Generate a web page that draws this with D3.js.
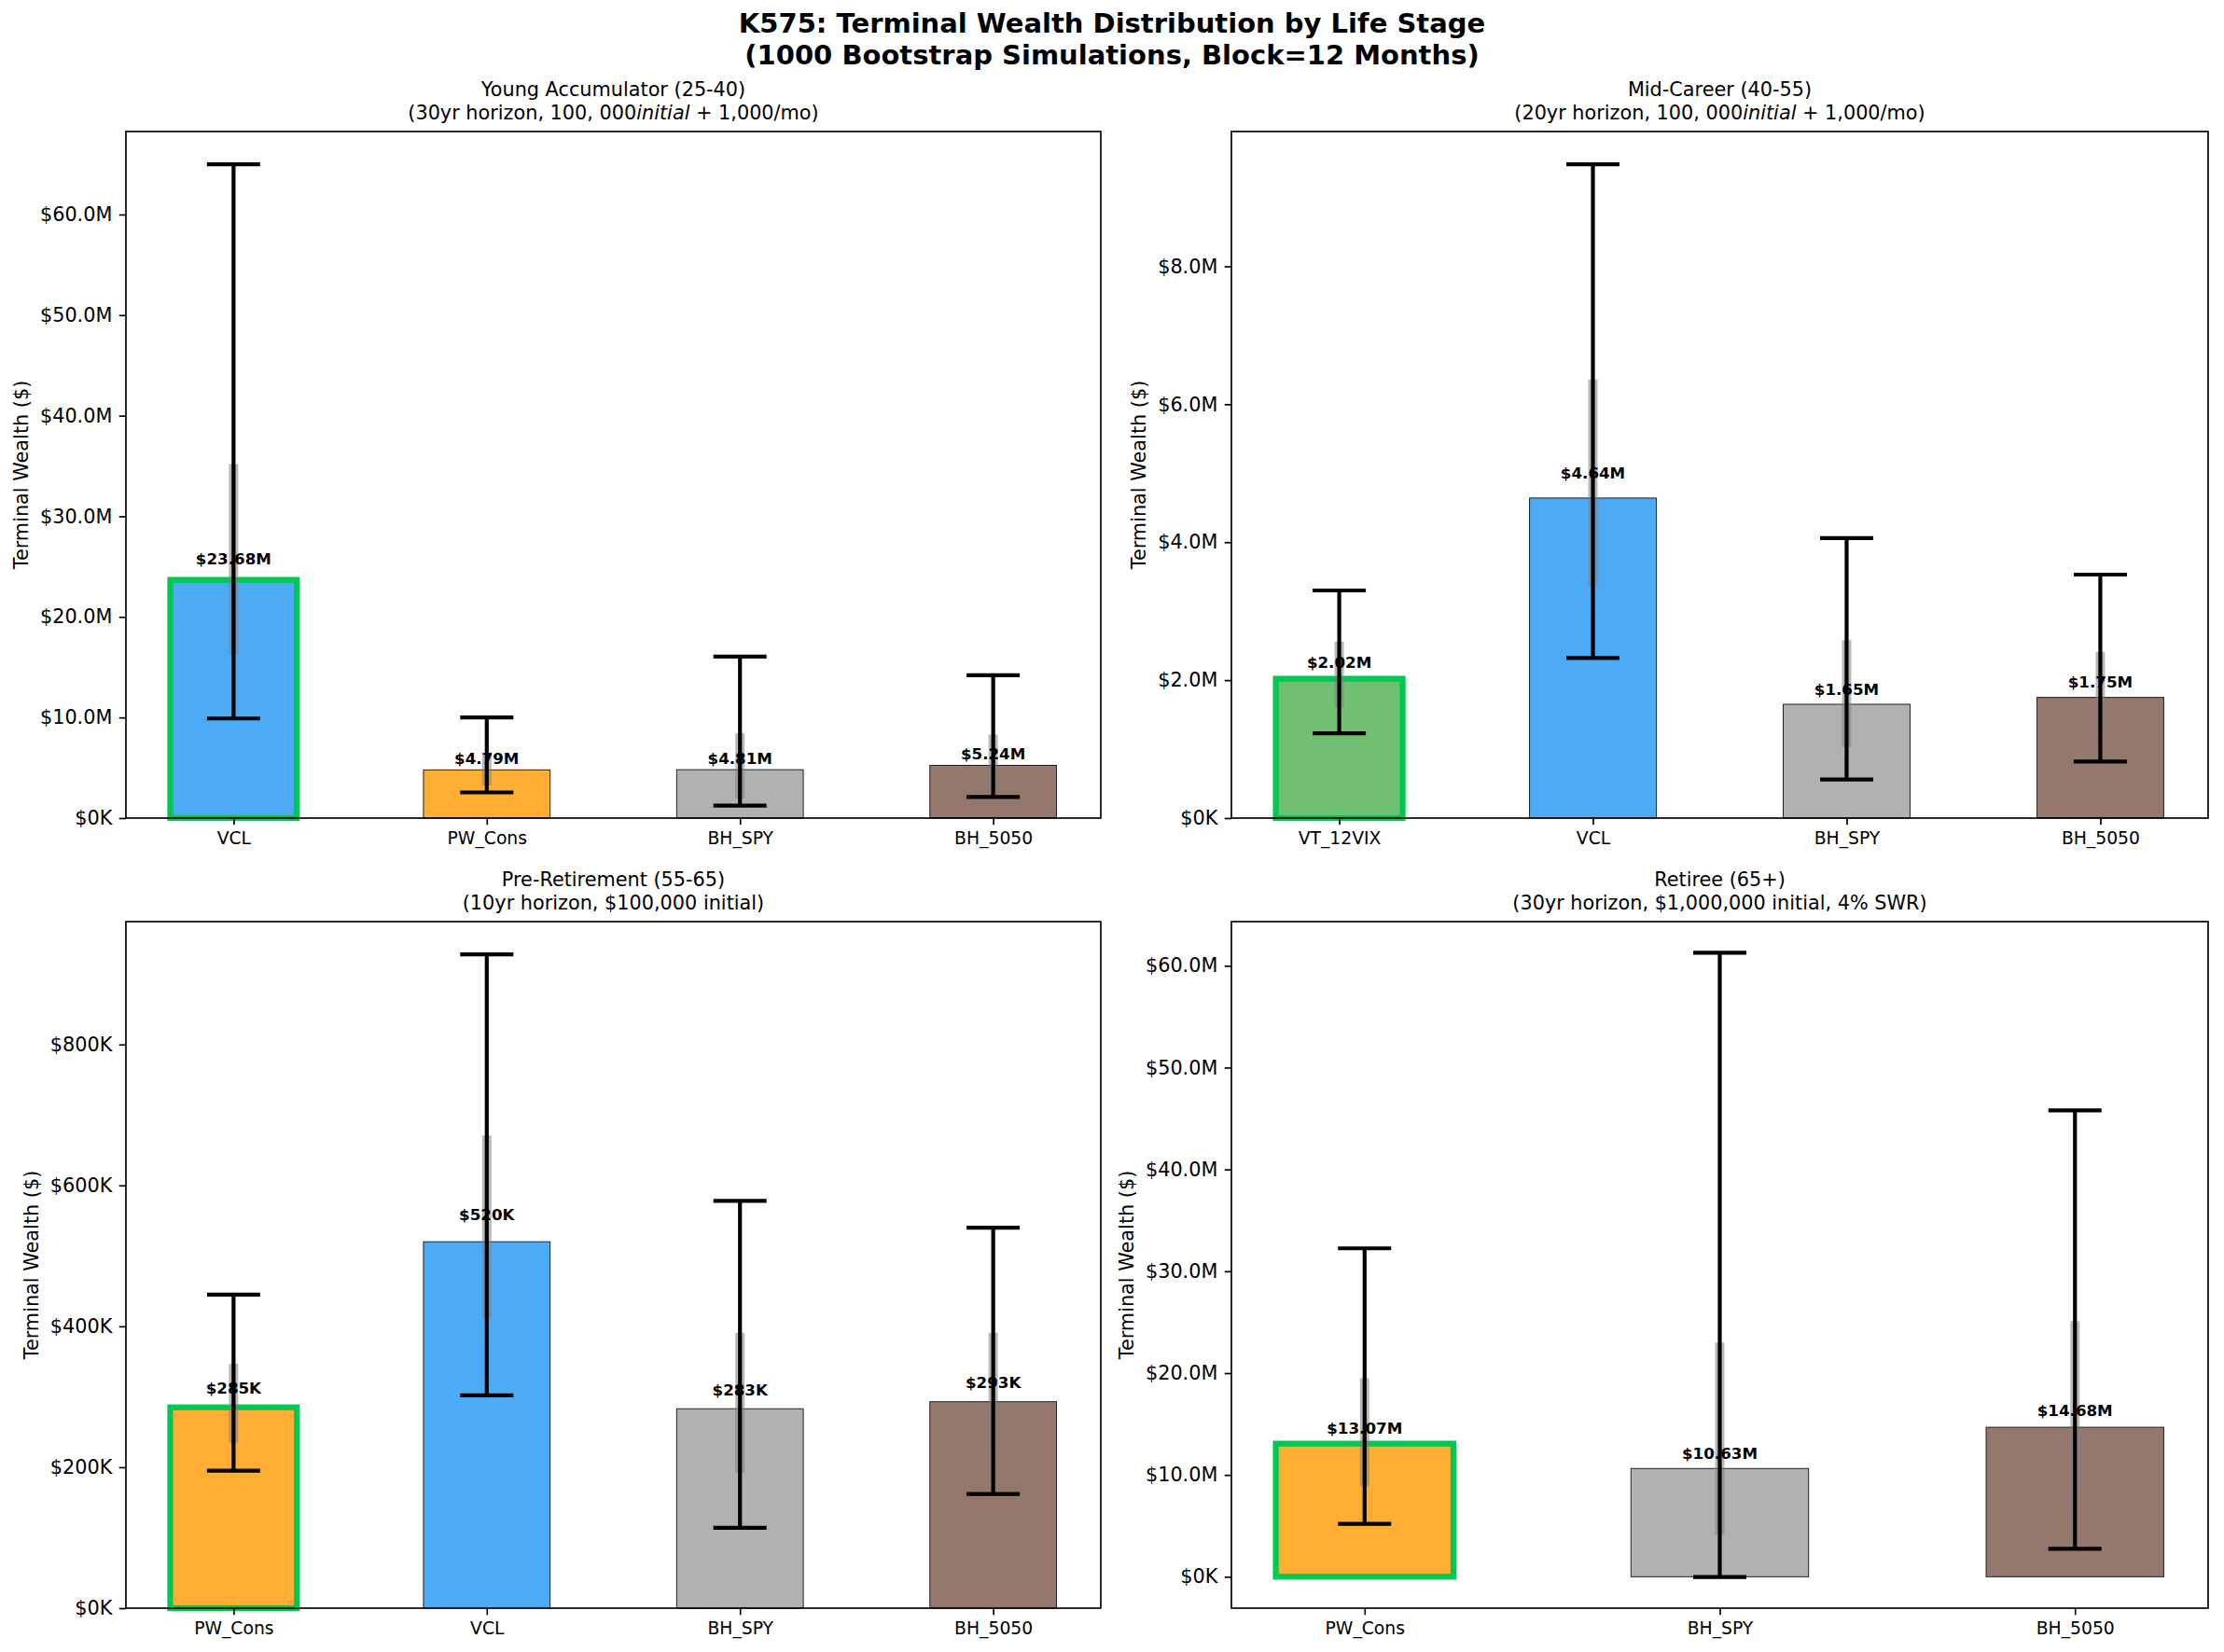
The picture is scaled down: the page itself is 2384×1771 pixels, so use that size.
<!DOCTYPE html>
<html>
<head>
<meta charset="utf-8">
<title>K575 Terminal Wealth</title>
<style>
  body { margin: 0; background: #fff; }
  svg text { font-family: "DejaVu Sans", sans-serif; fill: #000; }
</style>
<script src="https://cdnjs.cloudflare.com/ajax/libs/d3/7.8.5/d3.min.js"></script>
</head>
<body>
<svg id="chart" width="2384" height="1771"></svg>
<script>
// values (dollars)
var youngNames = ['VCL', 'PW_Cons', 'BH_SPY', 'BH_5050'];
var youngMedian = [23.68e6, 4.79e6, 4.81e6, 5.24e6];
var youngP5 = [9.9e6, 2.55e6, 1.24e6, 2.09e6];
var youngP95 = [65.0e6, 10.0e6, 16.05e6, 14.2e6];
var youngQ25 = [16.2e6, 3.25e6, 1.95e6, 2.94e6];
var youngQ75 = [35.2e6, 6.5e6, 8.44e6, 8.3e6];
var youngTicks = [0, 10e6, 20e6, 30e6, 40e6, 50e6, 60e6];

var midNames = ['VT_12VIX', 'VCL', 'BH_SPY', 'BH_5050'];
var midMedian = [2.02e6, 4.64e6, 1.65e6, 1.75e6];
var midP5 = [1.23e6, 2.32e6, 0.56e6, 0.82e6];
var midP95 = [3.30e6, 9.48e6, 4.06e6, 3.53e6];
var midQ25 = [1.60e6, 3.35e6, 1.03e6, 1.26e6];
var midQ75 = [2.56e6, 6.36e6, 2.58e6, 2.41e6];
var midTicks = [0, 2e6, 4e6, 6e6, 8e6];

var preNames = ['PW_Cons', 'VCL', 'BH_SPY', 'BH_5050'];
var preMedian = [285e3, 520e3, 283e3, 293e3];
var preP5 = [195e3, 302e3, 114e3, 162e3];
var preP95 = [445e3, 928e3, 578e3, 540e3];
var preQ25 = [235e3, 411e3, 192e3, 230e3];
var preQ75 = [347e3, 671e3, 391e3, 391e3];
var preTicks = [0, 200e3, 400e3, 600e3, 800e3];

var retNames = ['PW_Cons', 'BH_SPY', 'BH_5050'];
var retMedian = [13.07e6, 10.63e6, 14.68e6];
var retP5 = [5.2e6, -0.02e6, 2.74e6];
var retP95 = [32.25e6, 61.27e6, 45.8e6];
var retQ25 = [8.9e6, 4.1e6, 7.9e6];
var retQ75 = [19.5e6, 23.0e6, 25.1e6];
var retTicks = [0, 10e6, 20e6, 30e6, 40e6, 50e6, 60e6];

var stageTitles = ['Young Accumulator (25-40)', 'Mid-Career (40-55)', 'Pre-Retirement (55-65)', 'Retiree (65+)'];

var colors = {
  VCL: '#2196F3', PW_Cons: '#FF9800', BH_SPY: '#9E9E9E',
  BH_5050: '#795548', VT_12VIX: '#4CAF50'
};

var panels = [
  { names: youngNames, med: youngMedian, p5: youngP5, p95: youngP95, q25: youngQ25, q75: youngQ75, ticks: youngTicks,
    sub: [['(30yr horizon, 100, 000', false], ['initial', true], [' + 1,000/mo)', false]],
    box: { left: 135, right: 1180, top: 141, bottom: 877 } },
  { names: midNames, med: midMedian, p5: midP5, p95: midP95, q25: midQ25, q75: midQ75, ticks: midTicks,
    sub: [['(20yr horizon, 100, 000', false], ['initial', true], [' + 1,000/mo)', false]],
    box: { left: 1320, right: 2367, top: 141, bottom: 877 } },
  { names: preNames, med: preMedian, p5: preP5, p95: preP95, q25: preQ25, q75: preQ75, ticks: preTicks,
    sub: [['(10yr horizon, $100,000 initial)', false]],
    box: { left: 135, right: 1180, top: 988, bottom: 1724 } },
  { names: retNames, med: retMedian, p5: retP5, p95: retP95, q25: retQ25, q75: retQ75, ticks: retTicks,
    sub: [['(30yr horizon, $1,000,000 initial, 4% SWR)', false]],
    box: { left: 1320, right: 2367, top: 988, bottom: 1724 } }
];

function fmtTick(v) {
  if (Math.abs(v) >= 1e6) return '$' + (v / 1e6).toFixed(1) + 'M';
  return '$' + (v / 1e3).toFixed(0) + 'K';
}
function fmtVal(v) {
  if (Math.abs(v) >= 1e6) return '$' + (v / 1e6).toFixed(2) + 'M';
  return '$' + (v / 1e3).toFixed(0) + 'K';
}

var svg = d3.select('#chart');
svg.append('rect').attr('width', 2384).attr('height', 1771).attr('fill', '#fff');

// figure title
var sup = svg.append('text')
  .attr('text-anchor', 'middle')
  .style('font-size', '29px')
  .style('font-weight', 'bold');
sup.append('tspan').attr('x', 1192).attr('y', 35).text('K575: Terminal Wealth Distribution by Life Stage');
sup.append('tspan').attr('x', 1192).attr('y', 69).text('(1000 Bootstrap Simulations, Block=12 Months)');

var tickLen = 7.3, tickPad = 7.3;

panels.forEach(function (p, k) {
  var b = p.box;
  var n = p.names.length;
  var xMargin = 0.05 * (n - 0.5);
  var x = d3.scaleLinear()
    .domain([-0.25 - xMargin, n - 0.75 + xMargin])
    .range([b.left, b.right]);

  // matplotlib-like autoscale: bars stick at 0 unless a whisker dips below
  var dmin = Math.min(0, d3.min(p.p5));
  var dmax = d3.max(p.p95);
  var m = 0.05 * (dmax - dmin);
  var y = d3.scaleLinear()
    .domain([dmin < 0 ? dmin - m : 0, dmax + m])
    .range([b.bottom, b.top]);

  var g = svg.append('g');
  var idx = d3.range(n);
  var bw = x(0.5) - x(0);

  // bars
  g.selectAll('rect.bar')
    .data(idx)
    .enter()
    .append('rect')
    .attr('class', 'bar')
    .attr('x', i => x(i) - bw / 2)
    .attr('y', i => y(p.med[i]))
    .attr('width', bw)
    .attr('height', i => y(0) - y(p.med[i]))
    .attr('fill', i => colors[p.names[i]])
    .attr('fill-opacity', 0.8)
    .attr('stroke', i => i === 0 ? '#00C853' : '#222')
    .attr('stroke-width', i => i === 0 ? 6.25 : 1);

  // 25-75 band
  g.selectAll('line.iqr')
    .data(idx)
    .enter()
    .append('line')
    .attr('x1', i => x(i)).attr('x2', i => x(i))
    .attr('y1', i => y(p.q25[i])).attr('y2', i => y(p.q75[i]))
    .attr('stroke', 'gray')
    .attr('stroke-opacity', 0.55)
    .attr('stroke-width', 10);

  // 5-95 whiskers
  var cap = 28.5;
  var eb = g.selectAll('g.err').data(idx).enter().append('g')
    .attr('stroke', '#000').attr('stroke-width', 4.2);
  eb.append('line')
    .attr('x1', i => x(i)).attr('x2', i => x(i))
    .attr('y1', i => y(p.p5[i])).attr('y2', i => y(p.p95[i]));
  eb.append('line')
    .attr('x1', i => x(i) - cap).attr('x2', i => x(i) + cap)
    .attr('y1', i => y(p.p5[i])).attr('y2', i => y(p.p5[i]));
  eb.append('line')
    .attr('x1', i => x(i) - cap).attr('x2', i => x(i) + cap)
    .attr('y1', i => y(p.p95[i])).attr('y2', i => y(p.p95[i]));

  // value labels
  g.selectAll('text.val')
    .data(idx)
    .enter()
    .append('text')
    .attr('x', i => x(i))
    .attr('y', i => y(p.med[i] * 1.05) - 4)
    .attr('text-anchor', 'middle')
    .style('font-size', '16.7px')
    .style('font-weight', 'bold')
    .text(i => fmtVal(p.med[i]));

  // axes
  var yAxis = svg.append('g')
    .attr('transform', 'translate(' + b.left + ',0)')
    .call(d3.axisLeft(y).tickValues(p.ticks).tickFormat(fmtTick)
      .tickSize(tickLen).tickPadding(tickPad));
  yAxis.select('.domain').remove();
  yAxis.selectAll('line').attr('stroke', '#000').attr('stroke-width', 1.67);
  yAxis.selectAll('text').style('font-size', '20.8px')
    .style('font-family', '"DejaVu Sans", sans-serif');

  var xAxis = svg.append('g')
    .attr('transform', 'translate(0,' + b.bottom + ')')
    .call(d3.axisBottom(x).tickValues(idx).tickFormat(i => p.names[i])
      .tickSize(tickLen).tickPadding(tickPad));
  xAxis.select('.domain').remove();
  xAxis.selectAll('line').attr('stroke', '#000').attr('stroke-width', 1.67);
  xAxis.selectAll('text').style('font-size', '18.75px')
    .style('font-family', '"DejaVu Sans", sans-serif');

  // frame
  svg.append('rect')
    .attr('x', b.left).attr('y', b.top)
    .attr('width', b.right - b.left).attr('height', b.bottom - b.top)
    .attr('fill', 'none').attr('stroke', '#000').attr('stroke-width', 1.67);

  // y label, placed left of the widest tick label
  var maxW = 0;
  yAxis.selectAll('text').each(function () {
    maxW = Math.max(maxW, this.getComputedTextLength());
  });
  var lx = b.left - tickLen - tickPad - maxW - 8.3 - 4.9;
  var ly = (b.top + b.bottom) / 2;
  svg.append('text')
    .attr('transform', 'translate(' + lx + ',' + ly + ') rotate(-90)')
    .attr('text-anchor', 'middle')
    .style('font-size', '20.8px')
    .text('Terminal Wealth ($)');

  // panel title
  var cx = (b.left + b.right) / 2;
  var t = svg.append('text').attr('text-anchor', 'middle').style('font-size', '20.8px');
  t.append('tspan').attr('x', cx).attr('y', b.top - 38).text(stageTitles[k]);
  var line2 = svg.append('text').attr('text-anchor', 'middle').style('font-size', '20.8px')
    .attr('x', cx).attr('y', b.top - 13);
  p.sub.forEach(function (s) {
    line2.append('tspan')
      .style('font-style', s[1] ? 'italic' : 'normal')
      .style('white-space', 'pre')
      .text(s[0]);
  });
});
</script>
</body>
</html>
